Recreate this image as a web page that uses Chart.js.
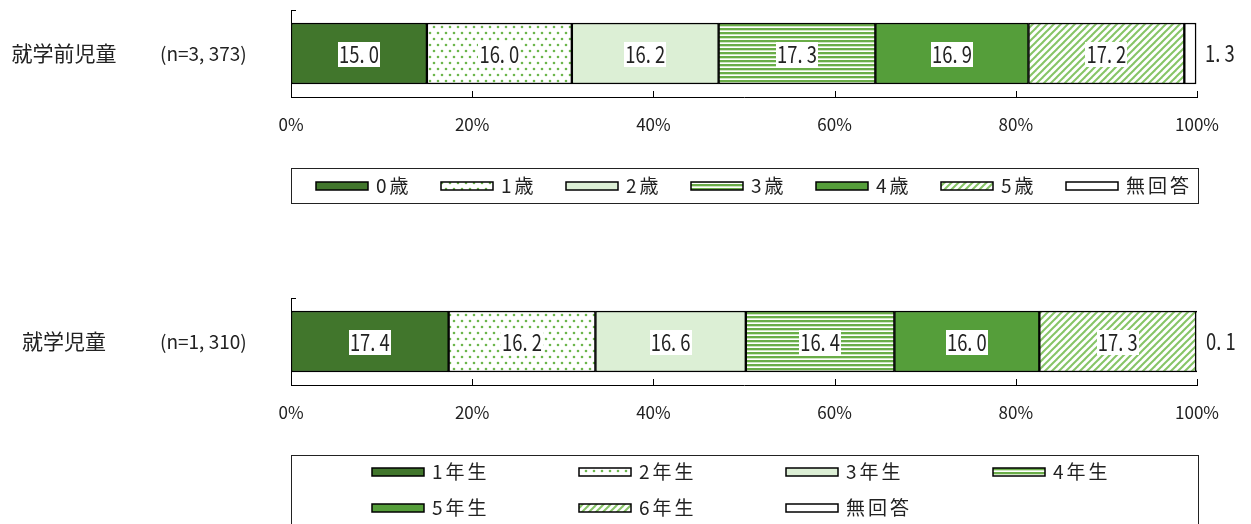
<!DOCTYPE html>
<html lang="ja">
<head>
<meta charset="utf-8">
<script src="https://cdn.jsdelivr.net/npm/chart.js@4"></script>
<style>
  html, body { margin: 0; padding: 0; background: #fff; }
  #wrap { position: relative; width: 1251px; height: 524px; overflow: hidden; }
  canvas { position: absolute; left: 0; }
</style>
</head>
<body>
<div id="wrap">
  <canvas id="c1" width="1251" height="240" style="top:0"></canvas>
  <canvas id="c2" width="1251" height="284" style="top:240px"></canvas>
</div>
<script>
// ── Data ───────────────────────────────────────────────────────────────────────
const preCategory = '就学前児童';
const preN        = '(n=3, 373)';
const preLabels   = ['0歳', '1歳', '2歳', '3歳', '4歳', '5歳', '無回答'];
const preValues   = [15.0, 16.0, 16.2, 17.3, 16.9, 17.2, 1.3];

const schCategory = '就学児童';
const schN        = '(n=1, 310)';
const schLabels   = ['1年生', '2年生', '3年生', '4年生', '5年生', '6年生', '無回答'];
const schValues   = [17.4, 16.2, 16.6, 16.4, 16.0, 17.3, 0.1];

const axisTicks   = [0, 20, 40, 60, 80, 100];

// ── Styling ────────────────────────────────────────────────────────────────────
const JP_FONT = "'Noto Sans CJK JP', sans-serif";

function makeFill(kind) {
  const t = document.createElement('canvas');
  const c = t.getContext('2d');
  switch (kind) {
    case 'dots':
      t.width = 8; t.height = 12;
      c.fillStyle = '#fff'; c.fillRect(0, 0, 8, 12);
      c.fillStyle = '#6cb64c';
      [[2, 3], [6, 9]].forEach(([x, y]) => { c.beginPath(); c.arc(x, y, 1.3, 0, Math.PI * 2); c.fill(); });
      break;
    case 'hstripe':
      t.width = 4; t.height = 4;
      c.fillStyle = '#fff'; c.fillRect(0, 0, 4, 4);
      c.fillStyle = '#6aad48'; c.fillRect(0, 0, 4, 2);
      c.fillStyle = '#cfe6c2'; c.fillRect(0, 2, 4, 1);
      break;
    case 'diag':
      t.width = 7; t.height = 7;
      c.fillStyle = '#fff'; c.fillRect(0, 0, 7, 7);
      c.strokeStyle = '#86c466'; c.lineWidth = 2;
      [[-7, 7, 7, -7], [0, 7, 7, 0], [0, 14, 14, 0]].forEach(([a, b, d, e]) => {
        c.beginPath(); c.moveTo(a, b); c.lineTo(d, e); c.stroke();
      });
      break;
  }
  return c.createPattern(t, 'repeat');
}

const fills = ['#41762c', makeFill('dots'), '#dcefd5', makeFill('hstripe'), '#559e3a', makeFill('diag'), '#ffffff'];

const fmtVal = v => v.toFixed(1).replace('.', '. ');

// narrow, tall digits like the original's gothic face
const NARROW = 0.8;
function drawNarrow(ctx, txt, x, y, align) {
  ctx.save();
  ctx.translate(x, y);
  ctx.scale(NARROW, 1);
  ctx.textAlign = align;
  ctx.fillText(txt, 0, 0);
  ctx.restore();
}

// ── Plugins ────────────────────────────────────────────────────────────────────
const rowLabels = {
  id: 'rowLabels',
  afterDraw(chart, args, opts) {
    const ctx = chart.ctx, y = chart.scales.y.getPixelForValue(0);
    ctx.save();
    ctx.fillStyle = '#222'; ctx.textBaseline = 'middle';
    ctx.font = '21px ' + JP_FONT; ctx.textAlign = 'center';
    ctx.fillText(opts.category, opts.catX, y);
    ctx.font = '19px ' + JP_FONT; ctx.textAlign = 'left';
    ctx.fillText(opts.n, opts.nX, y);
    ctx.restore();
  }
};

const valueLabels = {
  id: 'valueLabels',
  afterDatasetsDraw(chart) {
    const ctx = chart.ctx, n = chart.data.datasets.length;
    ctx.save();
    ctx.font = '23px ' + JP_FONT; ctx.textBaseline = 'middle';
    chart.data.datasets.forEach((ds, i) => {
      const bar = chart.getDatasetMeta(i).data[0];
      const txt = fmtVal(ds.data[0]);
      if (i === n - 1) {
        ctx.fillStyle = '#222';
        drawNarrow(ctx, txt, Math.max(bar.x, bar.base) + 9, bar.y, 'left');
        return;
      }
      const cx = (bar.x + bar.base) / 2;
      const w = ctx.measureText(txt).width * NARROW + 2;
      ctx.fillStyle = '#fff';
      ctx.fillRect(Math.round(cx - w / 2), Math.round(bar.y - 12), Math.round(w), 25);
      ctx.fillStyle = '#222';
      drawNarrow(ctx, txt, cx, bar.y + 1, 'center');
    });
    ctx.restore();
  }
};

const axisMarks = {
  id: 'axisMarks',
  afterDraw(chart) {
    const ctx = chart.ctx, a = chart.chartArea, x = chart.scales.x;
    ctx.save();
    ctx.strokeStyle = '#000'; ctx.lineWidth = 1;
    ctx.beginPath();
    x.ticks.forEach(t => {
      if (t.value === 0) return;
      const px = Math.round(x.getPixelForValue(t.value)) + 0.5;
      ctx.moveTo(px, a.bottom); ctx.lineTo(px, a.bottom - 6);
    });
    ctx.moveTo(a.left, Math.round(a.top) + 0.5); ctx.lineTo(a.left + 5, Math.round(a.top) + 0.5);
    ctx.stroke();
    ctx.restore();
  }
};

const boxLegend = {
  id: 'boxLegend',
  afterDraw(chart, args, opts) {
    const ctx = chart.ctx, [l, t, r, b] = opts.box;
    ctx.save();
    ctx.strokeStyle = '#222'; ctx.lineWidth = 1;
    ctx.strokeRect(l + 0.5, t + 0.5, r - l, b - t);
    ctx.font = '19px ' + JP_FONT; ctx.textBaseline = 'middle'; ctx.textAlign = 'left';
    ctx.letterSpacing = '3px';
    chart.data.datasets.forEach((ds, i) => {
      const col = i % opts.cols, row = Math.floor(i / opts.cols);
      const sx = opts.x0 + col * opts.dx, sy = opts.y0 + row * opts.dy;
      ctx.fillStyle = ds.backgroundColor;
      ctx.fillRect(sx, sy - 4, 52, 8);
      ctx.strokeStyle = '#000'; ctx.lineWidth = 1.5;
      ctx.strokeRect(sx, sy - 4, 52, 8);
      ctx.fillStyle = '#222';
      ctx.fillText(ds.label, sx + 60, sy);
    });
    ctx.restore();
  }
};

// ── Charts ─────────────────────────────────────────────────────────────────────
function buildChart(canvasId, cfg) {
  return new Chart(document.getElementById(canvasId), {
    type: 'bar',
    data: {
      labels: [cfg.category],
      datasets: cfg.labels.map((lab, i) => ({
        label: lab,
        data: [cfg.values[i]],
        backgroundColor: fills[i],
        borderColor: '#000', borderWidth: 1.5, borderSkipped: false,
        barThickness: 61,
      })),
    },
    options: {
      indexAxis: 'y',
      responsive: false,
      animation: false,
      events: [],
      layout: { padding: { top: cfg.padTop, left: 291, right: 54, bottom: cfg.padBottom } },
      plugins: {
        legend: { display: false },
        tooltip: { enabled: false },
        rowLabels: { category: cfg.category, n: cfg.n, catX: 64, nX: 160 },
        boxLegend: cfg.legend,
      },
      scales: {
        x: {
          stacked: true, min: 0, max: 100,
          afterBuildTicks: s => { s.ticks = axisTicks.map(v => ({ value: v })); },
          grid: { display: false, drawTicks: false },
          border: { display: true, color: '#000', width: 1 },
          ticks: { padding: 17, color: '#222', maxRotation: 0, autoSkip: false,
                   font: { family: JP_FONT, size: 17 }, callback: v => v + '%' },
          afterFit: s => { s.height = 37; },
        },
        y: {
          stacked: true,
          grid: { display: false, drawTicks: false },
          border: { display: true, color: '#000', width: 1 },
          ticks: { display: false },
          afterFit: s => { s.width = 0; },
        },
      },
    },
    plugins: [valueLabels, axisMarks, rowLabels, boxLegend],
  });
}

buildChart('c1', {
  category: preCategory, n: preN, labels: preLabels, values: preValues,
  padTop: 10, padBottom: 106,
  legend: { box: [291, 168, 1198, 203], x0: 316, dx: 125, y0: 186, dy: 36, cols: 7 },
});

buildChart('c2', {
  category: schCategory, n: schN, labels: schLabels, values: schValues,
  padTop: 58, padBottom: 102,
  legend: { box: [291, 215, 1198, 300], x0: 372, dx: 207, y0: 232, dy: 36, cols: 4 },
});
</script>
</body>
</html>
